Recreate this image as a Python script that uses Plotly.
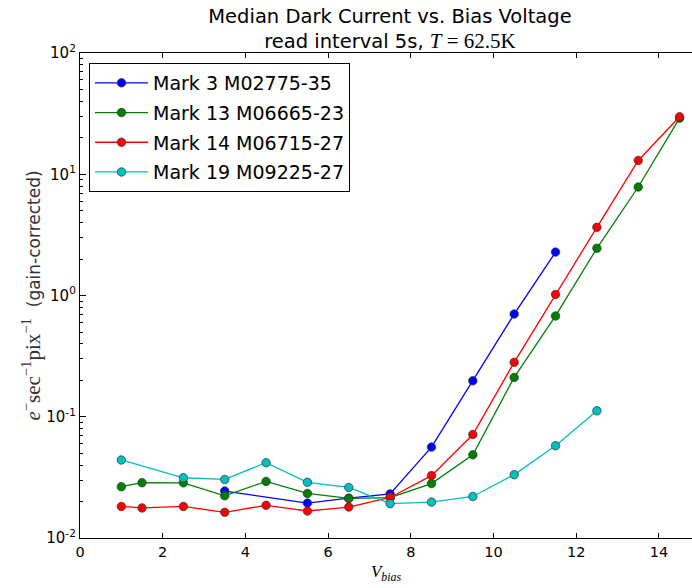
import plotly.graph_objects as go

# ---- data ----
series_names = ["Mark 3 M02775-35", "Mark 13 M06665-23", "Mark 14 M06715-27", "Mark 19 M09225-27"]
series_colors = ["#0000ff", "#008000", "#ff0000", "#00bfbf"]

blue_x = [3.5, 5.5, 6.5, 7.5, 8.5, 9.5, 10.5, 11.5]
blue_y = [0.0244, 0.0194, 0.0213, 0.0231, 0.0562, 0.198, 0.703, 2.28]

green_x = [1, 1.5, 2.5, 3.5, 4.5, 5.5, 6.5, 7.5, 8.5, 9.5, 10.5, 11.5, 12.5, 13.5, 14.5]
green_y = [0.0265, 0.0286, 0.0285, 0.0223, 0.0293, 0.0233, 0.0212, 0.0215, 0.0281, 0.0486, 0.211, 0.678, 2.45, 7.85, 29.0]

red_x = [1, 1.5, 2.5, 3.5, 4.5, 5.5, 6.5, 7.5, 8.5, 9.5, 10.5, 11.5, 12.5, 13.5, 14.5]
red_y = [0.0182, 0.0177, 0.0182, 0.0163, 0.0186, 0.0167, 0.0180, 0.0216, 0.0327, 0.0714, 0.281, 1.02, 3.65, 13.0, 29.8]

cyan_x = [1, 2.5, 3.5, 4.5, 5.5, 6.5, 7.5, 8.5, 9.5, 10.5, 11.5, 12.5]
cyan_y = [0.044, 0.0314, 0.0304, 0.0418, 0.0288, 0.0261, 0.0192, 0.0198, 0.0220, 0.0333, 0.0577, 0.112]

x_ticks = [0, 2, 4, 6, 8, 10, 12, 14]
y_ticks = [0.01, 0.1, 1, 10, 100]
y_tick_labels = ["10<sup>-2</sup>", "10<sup>-1</sup>", "10<sup>0</sup>", "10<sup>1</sup>", "10<sup>2</sup>"]

SANS = "DejaVu Sans"
SERIF = "Liberation Serif"

fig = go.Figure()
for i, (name, color, xs, ys) in enumerate(zip(series_names, series_colors,
                                              [blue_x, green_x, red_x, cyan_x],
                                              [blue_y, green_y, red_y, cyan_y])):
    fig.add_trace(go.Scatter(
        x=xs, y=ys, name=name, mode="lines+markers", legendgroup=f"g{i}",
        line=dict(color=color, width=1.3),
        marker=dict(color=color, size=8.5, line=dict(color="#333333", width=0.7)),
    ))

fig.update_layout(
    width=692, height=588,
    margin=dict(l=80, r=0, t=53, b=50),
    paper_bgcolor="white", plot_bgcolor="white",
    font=dict(family=SANS, color="black"),
    title=dict(
        text=("Median Dark Current vs. Bias Voltage<br>read interval 5s, "
              f"<span style='font-family:{SERIF};font-size:21px'><i>T</i> = 62.5K</span>"),
        x=390 / 692, xref="container", xanchor="center",
        y=1 - 23 / 588, yref="container", yanchor="bottom",
        font=dict(size=19.5, family=SANS, color="black"),
    ),
    showlegend=True,
    legend=dict(
        x=(89 - 80) / 612, y=(538 - 63) / 485, xanchor="left", yanchor="top",
        bgcolor="white", bordercolor="black", borderwidth=1,
        font=dict(size=19, family=SANS, color="black"),
        itemwidth=53, tracegroupgap=2,
    ),
    xaxis=dict(
        range=[0, 612 / 41.35], tickvals=x_ticks, ticktext=[str(v) for v in x_ticks],
        showgrid=False, zeroline=False, automargin=False,
        showline=True, linecolor="black", linewidth=1.3, mirror="ticks",
        ticks="inside", ticklen=5, tickcolor="black", tickwidth=1,
        tickfont=dict(size=14.5, family=SANS),
        title=dict(text=f"<span style='font-family:{SERIF}'><i>V</i><sub><i>bias</i></sub></span>",
                   font=dict(size=17), standoff=6),
    ),
    yaxis=dict(
        type="log", range=[-2, 2], tickvals=y_ticks, ticktext=y_tick_labels,
        showgrid=False, zeroline=False, automargin=False,
        showline=True, linecolor="black", linewidth=1.3,
        ticks="inside", ticklen=6, tickcolor="black", tickwidth=1,
        tickfont=dict(size=15, family=SANS),
        minor=dict(ticks="inside", ticklen=3, tickcolor="black", showgrid=False,
                   tickvals=[m * d for d in [0.01, 0.1, 1, 10] for m in range(2, 10)]),
        title=dict(text=(f"<span style='font-family:{SERIF};font-size:21px'><i>e</i><sup>−</sup>sec<sup>−1</sup>pix<sup>−1</sup></span>"
                         "  (gain-corrected)"),
                   font=dict(size=17, color="#333333"), standoff=1),
    ),
)

fig.write_html("out.html", config={"displayModeBar": False},
               post_script="document.body.style.margin='0';document.body.style.overflow='hidden';")
